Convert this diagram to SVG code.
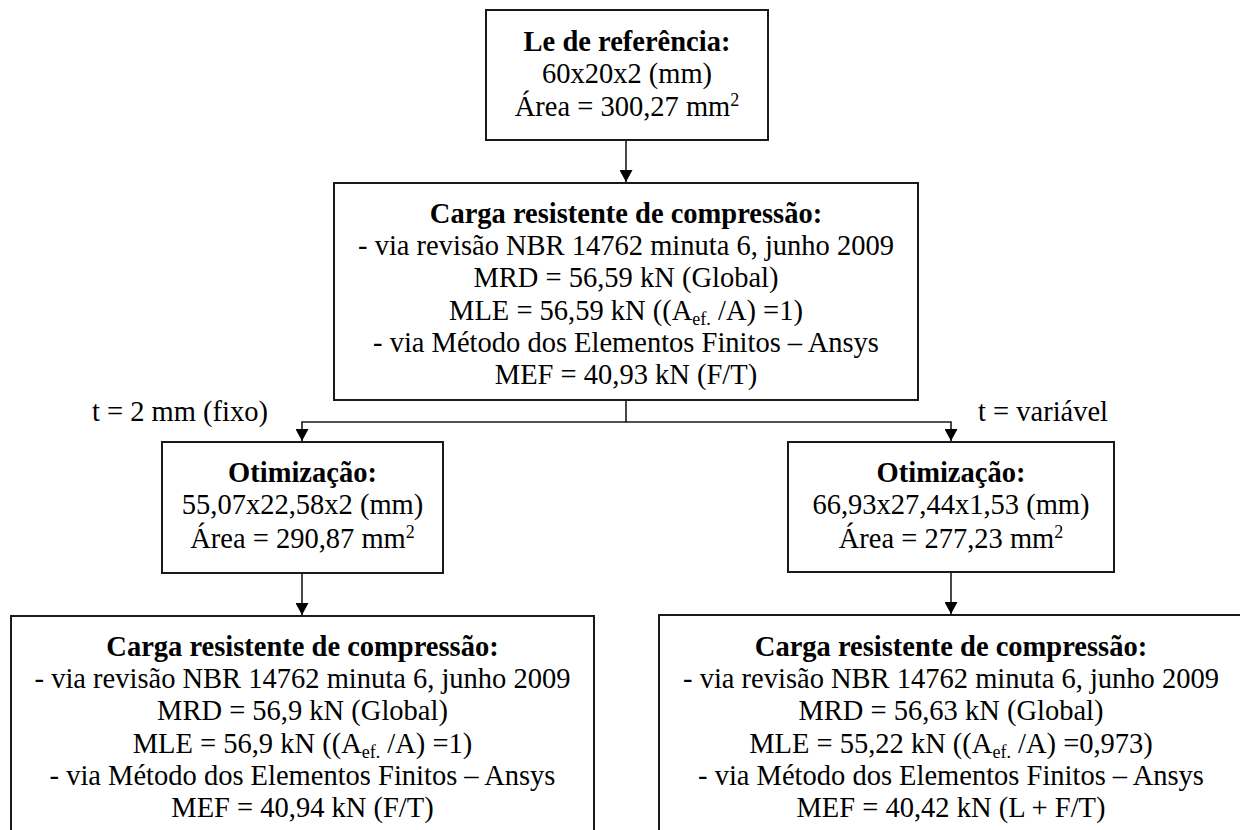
<svg xmlns="http://www.w3.org/2000/svg" width="1240" height="830" viewBox="0 0 1240 830">
<style>
.box{fill:#fff;stroke:#1a1a1a;stroke-width:2}
.con{fill:none;stroke:#1a1a1a;stroke-width:1.6}
text{font-family:"Liberation Serif","Times New Roman",serif;font-size:28.5px;fill:#000;text-anchor:middle}
.b{font-weight:bold}
.lbl{text-anchor:start}
.sm{font-size:18px}
.sup{font-size:18px}
</style>
<defs>
<marker id="arr" markerUnits="userSpaceOnUse" markerWidth="13" markerHeight="13" refX="12" refY="6.5" orient="auto">
<path d="M0,0 L12,6.5 L0,13 z" fill="#000"/>
</marker>
</defs>
<rect width="1240" height="830" fill="#fff"/>
<g id="connectors">
<path class="con" d="M626,140 V182" marker-end="url(#arr)"/>
<path class="con" d="M626,400 V422 H302 V441" marker-end="url(#arr)"/>
<path class="con" d="M626,422 H951 V441" marker-end="url(#arr)"/>
<path class="con" d="M302,573 V615" marker-end="url(#arr)"/>
<path class="con" d="M951,572 V614" marker-end="url(#arr)"/>
</g>
<g id="n_ref">
<rect class="box" x="486" y="10" width="282" height="130"/>
<text x="627" y="51" class="b">Le de referência:</text>
<text x="627" y="83">60x20x2 (mm)</text>
<text x="627" y="116">Área = 300,27 mm<tspan class="sup" dy="-10">2</tspan></text>
</g>
<g id="n_carga0">
<rect class="box" x="334" y="183" width="584" height="217"/>
<text x="626" y="223" class="b">Carga resistente de compressão:</text>
<text x="626" y="255">- via revisão NBR 14762 minuta 6, junho 2009</text>
<text x="626" y="287">MRD = 56,59 kN (Global)</text>
<text x="626" y="320">MLE = 56,59 kN ((A<tspan class="sm" dy="5">ef.</tspan><tspan dy="-5"> /A) =1)</tspan></text>
<text x="626" y="352">- via Método dos Elementos Finitos – Ansys</text>
<text x="626" y="384">MEF = 40,93 kN (F/T)</text>
</g>
<g id="lbl_fixo">
<text x="92" y="421" class="lbl">t = 2 mm (fixo)</text>
</g>
<g id="lbl_var">
<text x="978" y="421" class="lbl">t = variável</text>
</g>
<g id="n_otim1">
<rect class="box" x="162" y="442" width="281" height="131"/>
<text x="302.5" y="482" class="b">Otimização:</text>
<text x="302.5" y="514">55,07x22,58x2 (mm)</text>
<text x="302.5" y="548">Área = 290,87 mm<tspan class="sup" dy="-10">2</tspan></text>
</g>
<g id="n_otim2">
<rect class="box" x="788" y="442" width="326" height="130"/>
<text x="951" y="482" class="b">Otimização:</text>
<text x="951" y="514">66,93x27,44x1,53 (mm)</text>
<text x="951" y="548">Área = 277,23 mm<tspan class="sup" dy="-10">2</tspan></text>
</g>
<g id="n_carga1">
<rect class="box" x="11" y="616" width="583" height="230"/>
<text x="302.5" y="656" class="b">Carga resistente de compressão:</text>
<text x="302.5" y="688">- via revisão NBR 14762 minuta 6, junho 2009</text>
<text x="302.5" y="720">MRD = 56,9 kN (Global)</text>
<text x="302.5" y="753">MLE = 56,9 kN ((A<tspan class="sm" dy="5">ef.</tspan><tspan dy="-5"> /A) =1)</tspan></text>
<text x="302.5" y="785">- via Método dos Elementos Finitos – Ansys</text>
<text x="302.5" y="817">MEF = 40,94 kN (F/T)</text>
</g>
<g id="n_carga2">
<rect class="box" x="659" y="615" width="584" height="230"/>
<text x="951" y="656" class="b">Carga resistente de compressão:</text>
<text x="951" y="688">- via revisão NBR 14762 minuta 6, junho 2009</text>
<text x="951" y="720">MRD = 56,63 kN (Global)</text>
<text x="951" y="753">MLE = 55,22 kN ((A<tspan class="sm" dy="5">ef.</tspan><tspan dy="-5"> /A) =0,973)</tspan></text>
<text x="951" y="785">- via Método dos Elementos Finitos – Ansys</text>
<text x="951" y="817">MEF = 40,42 kN (L + F/T)</text>
</g>
</svg>
